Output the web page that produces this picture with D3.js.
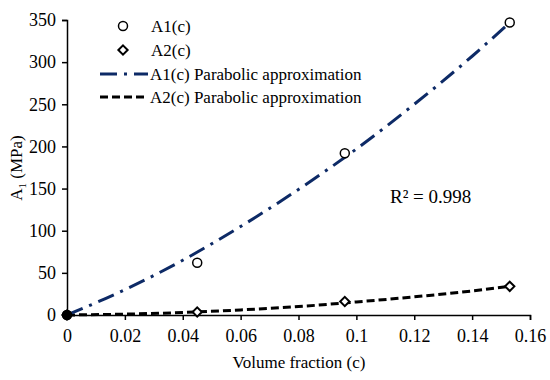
<!DOCTYPE html>
<html><head><meta charset="utf-8">
<script src="https://cdn.jsdelivr.net/npm/d3@7"></script>
<style>body{margin:0;background:#fff}svg{display:block}</style>
</head><body><svg id="c" width="550" height="380"></svg>
<script>
const xTicks = [0, 0.02, 0.04, 0.06, 0.08, 0.1, 0.12, 0.14, 0.16];
const yTicks = [0, 50, 100, 150, 200, 250, 300, 350];
const pointsC = [0, 0.045, 0.096, 0.153];
const a1Values = [0, 62, 192, 347];
const a2Values = [0, 3.5, 16, 34];
const fitC = [0, 0.02, 0.04, 0.06, 0.08, 0.1, 0.12, 0.14, 0.153];
const fitA1 = [0, 30, 65, 105, 149, 197, 250, 307, 347];
const fitA2 = [0, 1, 3, 6, 10, 15.5, 21.5, 28.5, 34];
const legendLabels = ["A1(c)", "A2(c)", "A1(c) Parabolic approximation", "A2(c) Parabolic approximation"];

const FONT = "Liberation Serif";
const svg = d3.select("#c").attr("font-family", FONT);
const x = d3.scaleLinear().domain([0, 0.16]).range([67, 530]);
const y = d3.scaleLinear().domain([0, 350]).range([315, 20]);

const fmt = d => d === 0 ? "0" : String(+d.toFixed(2));
const gx = svg.append("g").attr("transform", "translate(0,315)")
  .call(d3.axisBottom(x).tickValues(xTicks).tickFormat(fmt).tickSizeOuter(0).tickSize(5).tickPadding(9));
const gy = svg.append("g").attr("transform", "translate(67,0)")
  .call(d3.axisLeft(y).tickValues(yTicks).tickSizeOuter(0).tickSize(5).tickPadding(6));
[gx, gy].forEach(g => {
  g.attr("font-family", FONT).attr("font-size", 18);
  g.selectAll("path,line").attr("stroke", "#000").attr("stroke-width", 1.5);
  g.selectAll("text").attr("font-size", 18).attr("font-family", FONT).attr("fill", "#000");
});

const navy = "#0d2a66";
const line = d3.line().x(d => x(d[0])).y(d => y(d[1])).curve(d3.curveMonotoneX);
svg.append("path").datum(fitC.map((c, i) => [c, fitA2[i]])).attr("d", line)
  .attr("fill", "none").attr("stroke", "#000").attr("stroke-width", 3).attr("stroke-dasharray", "8,4");
svg.append("path").datum(fitC.map((c, i) => [c, fitA1[i]])).attr("d", line)
  .attr("fill", "none").attr("stroke", navy).attr("stroke-width", 3).attr("stroke-dasharray", "17,7,3,7");

svg.append("g").selectAll("circle").data(pointsC.map((c, i) => [c, a1Values[i]])).join("circle")
  .attr("cx", d => x(d[0])).attr("cy", d => y(d[1])).attr("r", 4.5)
  .attr("fill", "#fff").attr("stroke", "#000").attr("stroke-width", 1.5);
const diamond = d3.symbol().type(d3.symbolDiamond2).size(55);
svg.append("g").selectAll("path").data(pointsC.map((c, i) => [c, a2Values[i]])).join("path")
  .attr("d", diamond).attr("transform", d => `translate(${x(d[0])},${y(d[1])})`)
  .attr("fill", "#fff").attr("stroke", "#000").attr("stroke-width", 2);
svg.append("circle").attr("cx", x(0)).attr("cy", y(0)).attr("r", 5).attr("fill", "#000");

// legend
const lg = svg.append("g");
const ly = [26, 50, 74, 97];
lg.append("circle").attr("cx", 123).attr("cy", ly[0]).attr("r", 4.5).attr("fill", "#fff").attr("stroke", "#000").attr("stroke-width", 1.5);
lg.append("path").attr("d", diamond).attr("transform", `translate(123,${ly[1]})`).attr("fill", "#fff").attr("stroke", "#000").attr("stroke-width", 2);
lg.append("line").attr("x1", 100).attr("x2", 148).attr("y1", ly[2]).attr("y2", ly[2]).attr("stroke", navy).attr("stroke-width", 3).attr("stroke-dasharray", "17,7,3,7");
lg.append("line").attr("x1", 100).attr("x2", 148).attr("y1", ly[3]).attr("y2", ly[3]).attr("stroke", "#000").attr("stroke-width", 3).attr("stroke-dasharray", "8,4");
legendLabels.forEach((t, i) => {
  lg.append("text").attr("font-family", FONT).attr("x", i < 2 ? 151 : 150).attr("y", ly[i]).attr("dy", "0.35em").attr("font-size", 17).text(t);
});

svg.append("text").attr("font-family", FONT).attr("x", 390).attr("y", 203).attr("font-size", 19).text("R² = 0.998");

svg.append("text").attr("font-family", FONT).attr("x", 299).attr("y", 368).attr("text-anchor", "middle").attr("font-size", 17).text("Volume fraction (c)");
const yt = svg.append("text").attr("font-family", FONT).attr("transform", "translate(22,168) rotate(-90)").attr("text-anchor", "middle").attr("font-size", 17);
yt.append("tspan").text("A");
yt.append("tspan").attr("font-size", 11).attr("dy", 4).text("1");
yt.append("tspan").attr("dy", -4).text(" (MPa)");
</script></body></html>
